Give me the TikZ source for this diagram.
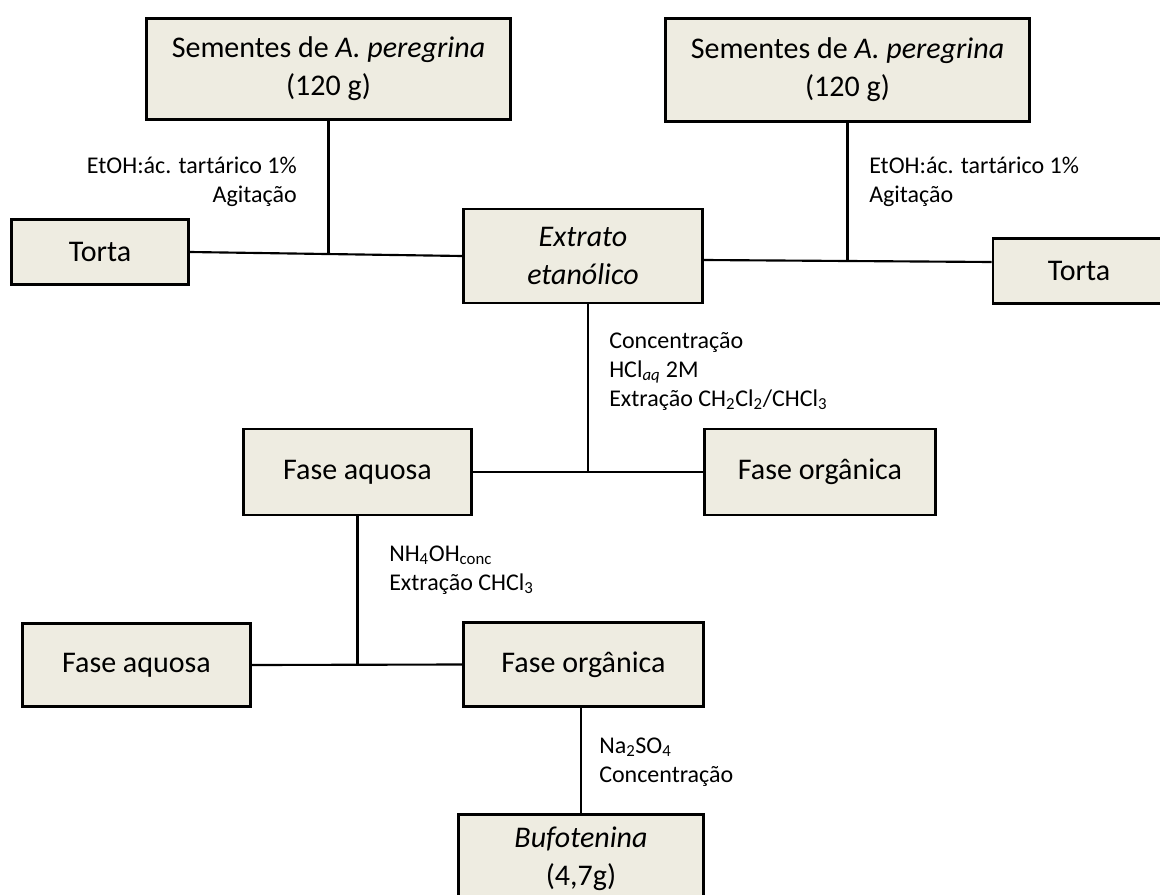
\documentclass[tikz,border=0pt]{standalone}
\usepackage{fontspec}
\setmainfont{Carlito}
\usetikzlibrary{calc}

\definecolor{boxfill}{HTML}{EEECE1}

\begin{document}
\begin{tikzpicture}[
			x=0.75pt, y=-0.75pt,
			stage/.style={rectangle, draw=black, fill=boxfill, line width=2.2pt, align=center, inner sep=0pt, font=\fontsize{22.5}{28.5}\selectfont},
			boxsize/.style 2 args={minimum width=#1*0.75pt, minimum height=#2*0.75pt},
			cond/.style={inner sep=0pt, font=\fontsize{18}{21.75}\selectfont},
			link/.style={line width=1.6pt, draw=black}
			]
			\useasboundingbox (0,0) rectangle (1160,895);
			\clip (0,0) rectangle (1160,895);
			
			% first extraction
			\node[stage, boxsize={364}{101}] (sem1) at (328.5,69) {Sementes de \textit{A. peregrina}\\(120 g)};
			\node[stage, boxsize={364}{103}] (sem2) at (847.5,70) {Sementes de \textit{A. peregrina}\\(120 g)};
			\node[stage, boxsize={177}{65}] (tortaL) at (100,252) {Torta};
			\node[stage, boxsize={239}{94}] (extrato) at (583,256) {\textit{Extrato}\\\textit{etanólico}};
			\node[stage, boxsize={172}{65}] (tortaR) at (1079,271) {Torta};
			
			% acid/base partition
			\node[stage, boxsize={228}{86}] (aq1) at (357.5,472) {Fase aquosa};
			\node[stage, boxsize={231}{86}] (org1) at (820,472) {Fase orgânica};
			\node[stage, boxsize={228}{83}] (aq2) at (136.5,665) {Fase aquosa};
			\node[stage, boxsize={240}{84}] (org2) at (583.5,664.5) {Fase orgânica};
			\node[stage, boxsize={245}{89}] (bufo) at (581,859) {\textit{Bufotenina}\\(4,7g)};
			
			% conditions
			\node[cond, anchor=east, align=right] (condL) at (297,182) {EtOH:ác. tartárico 1\%\\Agitação};
			\node[cond, anchor=west, align=left] (condR) at (869,182) {EtOH:ác. tartárico 1\%\\Agitação};
			\node[cond, anchor=west, align=left] (condC) at (609,371) {Concentração\\HCl\textsubscript{\itshape aq} 2M\\Extração CH\textsubscript{2}Cl\textsubscript{2}/CHCl\textsubscript{3}};
			\node[cond, anchor=west, align=left] (condN) at (389,570) {NH\textsubscript{4}OH\textsubscript{conc}\\Extração CHCl\textsubscript{3}};
			\node[cond, anchor=west, align=left] (condNa) at (599,762) {Na\textsubscript{2}SO\textsubscript{4}\\Concentração};
			
			% links
			\coordinate (jL) at ($(tortaL.east)!0.511!(extrato.west)$);
			\coordinate (eR) at ($(extrato.east)+(0,4)$);
			\coordinate (tR) at ($(tortaR.west)+(0,-9)$);
			\coordinate (jR) at ($(eR)!0.5!(tR)$);
			\coordinate (eS) at ($(extrato.south)+(5,0)$);
			
			\draw[link] (tortaL.east) -- (extrato.west);
			\draw[link] (sem1.south) -- (sem1.south |- jL);
			\draw[link] (eR) -- (tR);
			\draw[link] (sem2.south) -- (sem2.south |- jR);
			\draw[link] (eS) -- (eS |- aq1.east);
			\draw[link] (aq1.east) -- (org1.west);
			\draw[link] (aq1.south) -- (aq1.south |- aq2.east);
			\draw[link] (aq2.east) -- (org2.west);
			\draw[link] (org2.south -| bufo.north) -- (bufo.north);
		\end{tikzpicture}
\end{document}
